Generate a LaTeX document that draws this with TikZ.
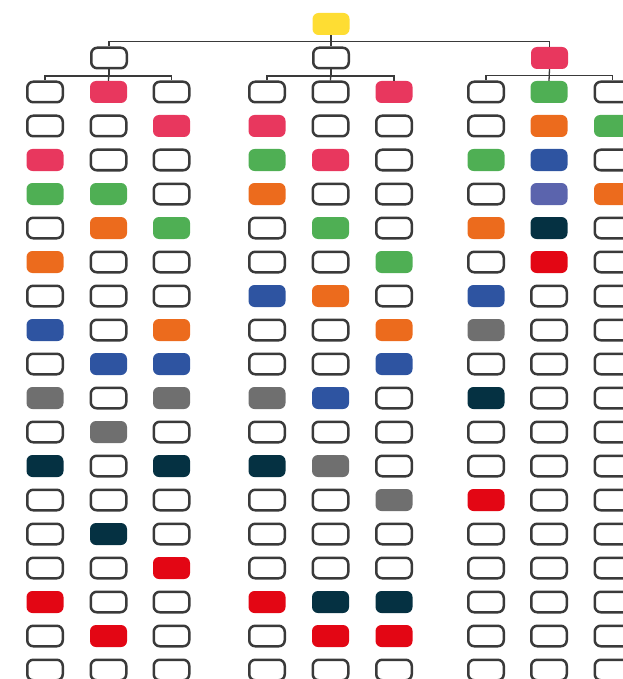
\documentclass[tikz,border=0pt]{standalone}
\usepackage{xcolor}
\usepackage{tikz}
\usetikzlibrary{positioning}

\definecolor{tileyellow}{HTML}{FEDD33}
\definecolor{tilepink}{HTML}{E8375E}
\definecolor{tilegreen}{HTML}{4FAF54}
\definecolor{tileorange}{HTML}{EC6B1D}
\definecolor{tileblue}{HTML}{2E54A1}
\definecolor{tilelav}{HTML}{5B64AD}
\definecolor{tilenavy}{HTML}{053142}
\definecolor{tilered}{HTML}{E30614}
\definecolor{tilegray}{HTML}{6F6F6F}
\definecolor{edgegray}{HTML}{3A3A3A}

\begin{document}
\begin{tikzpicture}[
 x=1pt, y=-1pt,
 node distance=34pt and 63pt,
 on grid,
 tile/.style={rectangle, rounded corners=6pt, inner sep=0pt, minimum width=37pt, minimum height=22pt},
 emp/.style={tile, draw=edgegray, line width=2.5pt, fill=white, minimum width=35.5pt, minimum height=20.5pt},
 ylw/.style={tile, fill=tileyellow},
 pnk/.style={tile, fill=tilepink},
 grn/.style={tile, fill=tilegreen},
 org/.style={tile, fill=tileorange},
 blu/.style={tile, fill=tileblue},
 lav/.style={tile, fill=tilelav},
 nvy/.style={tile, fill=tilenavy},
 crm/.style={tile, fill=tilered},
 gry/.style={tile, fill=tilegray},
 link/.style={draw=edgegray, line width=1.3pt}
 ]
 \useasboundingbox (0,0) rectangle (622,679);

 % Root
 \node[ylw] (root) at (331,24) {};

 % Level 1
 \node[emp, below=of root] (secB) {};
 \node[emp, left=222pt of secB] (secA) {};
 \node[pnk, right=218.5pt of secB] (secC) {};

 % Tile columns
 \foreach \col/\cx/\tiles in {
  a1/45/{emp,emp,pnk,grn,emp,org,emp,blu,emp,gry,emp,nvy,emp,emp,emp,crm,emp,emp},
  a2/108.5/{pnk,emp,emp,grn,org,emp,emp,emp,blu,emp,gry,emp,emp,nvy,emp,emp,crm,emp},
  a3/171.5/{emp,pnk,emp,emp,grn,emp,emp,org,blu,gry,emp,nvy,emp,emp,crm,emp,emp,emp},
  b1/267/{emp,pnk,grn,org,emp,emp,blu,emp,emp,gry,emp,nvy,emp,emp,emp,crm,emp,emp},
  b2/330.5/{emp,emp,pnk,emp,grn,emp,org,emp,emp,blu,emp,gry,emp,emp,emp,nvy,crm,emp},
  b3/394/{pnk,emp,emp,emp,emp,grn,emp,org,blu,emp,emp,emp,gry,emp,emp,nvy,crm,emp},
  c1/486/{emp,emp,grn,emp,org,emp,blu,gry,emp,nvy,emp,emp,crm,emp,emp,emp,emp,emp},
  c2/549/{grn,org,blu,lav,nvy,crm,emp,emp,emp,emp,emp,emp,emp,emp,emp,emp,emp,emp},
  c3/612.5/{emp,grn,emp,org,emp,emp,emp,emp,emp,emp,emp,emp,emp,emp,emp,emp,emp,emp}}
 {
  \foreach \s [count=\r] in \tiles
   \node[\s] (\col-\r) at (\cx,58+34*\r) {};
 }

 % Connectors root to level 1
 \draw[link] (root.south) -- ++(0,6.5) -| (secA.north);
 \draw[link] (root.south) -- (secB.north);
 \draw[link] (root.south) -- ++(0,6.5) -| (secC.north);

 % Connectors level 1 to tiles
 \draw[link] (secA.south) -- ++(0,6.5) -| (a1-1.north);
 \draw[link] (secA.south) -- (a2-1.north);
 \draw[link] (secA.south) -- ++(0,6.5) -| (a3-1.north);
 \draw[link] (secB.south) -- ++(0,6.5) -| (b1-1.north);
 \draw[link] (secB.south) -- (b2-1.north);
 \draw[link] (secB.south) -- ++(0,6.5) -| (b3-1.north);
 \draw[link] (secC.south) -- ++(0,6.5) -| (c1-1.north);
 \draw[link] (secC.south) -- (c2-1.north);
 \draw[link] (secC.south) -- ++(0,6.5) -| (c3-1.north);
\end{tikzpicture}
\end{document}
